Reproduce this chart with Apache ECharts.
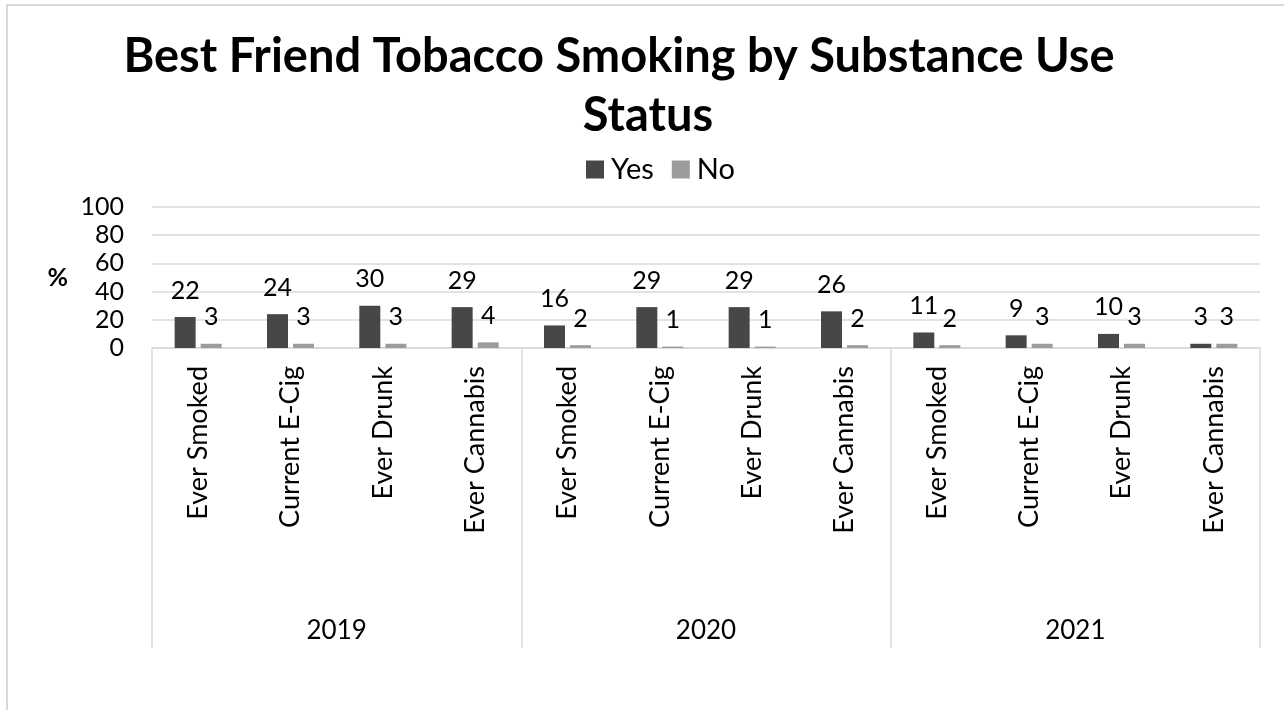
<!DOCTYPE html>
<html><head><meta charset="utf-8">
<script src="https://cdn.jsdelivr.net/npm/echarts@6/dist/echarts.min.js"></script>
<style>
html,body{margin:0;padding:0;background:#fff;}
#c{width:1284px;height:710px;position:absolute;left:0;top:0;}
#b{position:absolute;left:6px;top:4px;width:1400px;height:800px;border-left:2px solid #d9d9d9;border-top:2px solid #d9d9d9;pointer-events:none;}
</style></head><body>
<div id="c"></div><div id="b"></div>
<script>
const titleLine1 = 'Best Friend Tobacco Smoking by Substance Use';
const titleLine2 = 'Status';
const seriesNames = ['Yes', 'No'];
const categories = ['Ever Smoked','Current E-Cig','Ever Drunk','Ever Cannabis',
                    'Ever Smoked','Current E-Cig','Ever Drunk','Ever Cannabis',
                    'Ever Smoked','Current E-Cig','Ever Drunk','Ever Cannabis'];
const years = ['2019','2020','2021'];
const yesValues = [22,24,30,29, 16,29,29,26, 11,9,10,3];
const noValues  = [3,3,3,4, 2,1,1,2, 2,3,3,3];
const yTicks = [0,20,40,60,80,100];

const FONT = 'Lato';
const chart = echarts.init(document.getElementById('c'));
chart.setOption({
  animation:false,
  textStyle:{fontFamily:FONT},
  title:[
    {text:titleLine1, left:614, top:28, textAlign:'center',
     textStyle:{fontFamily:FONT,fontSize:47,fontWeight:'bold',color:'#000'}},
    {text:titleLine2, left:643, top:87, textAlign:'center',
     textStyle:{fontFamily:FONT,fontSize:47,fontWeight:'bold',color:'#000'}}
  ],
  legend:{data:seriesNames, left:581, top:150, itemWidth:18, itemHeight:18, itemGap:18,
    icon:'rect', textStyle:{fontFamily:FONT,fontSize:29,color:'#000',padding:[0,0,0,2]}},
  grid:{left:152,right:24,top:207,bottom:362,containLabel:false},
  xAxis:[
    {type:'category', data:categories, position:'bottom',
     axisLine:{show:true,lineStyle:{color:'#d9d9d9',width:1.5}},
     axisTick:{show:false},
     axisLabel:{rotate:90, margin:18, interval:0, fontFamily:FONT, fontSize:27, color:'#000'}},
    {type:'category', data:years, position:'bottom', offset:0,
     axisLine:{show:false},
     axisTick:{show:true, length:300, interval:0, lineStyle:{color:'#d9d9d9',width:1.5}},
     axisLabel:{margin:270, interval:0, fontFamily:FONT, fontSize:26, color:'#000'}}
  ],
  yAxis:{type:'value', min:yTicks[0], max:yTicks[yTicks.length-1], interval:20,
    name:'%', nameLocation:'middle', nameRotate:0, nameGap:84,
    nameTextStyle:{fontFamily:FONT,fontSize:25,fontWeight:'bold',color:'#000',padding:[10,0,0,0]},
    axisLine:{show:false}, axisTick:{show:false},
    axisLabel:{margin:28, fontFamily:FONT, fontSize:25, color:'#000'},
    splitLine:{lineStyle:{color:'#d9d9d9',width:1.5}}},
  series:[
    {name:seriesNames[0], type:'bar', data:yesValues, xAxisIndex:0, barWidth:21, barGap:'24%',
     itemStyle:{color:'#474747'},
     label:{show:true, position:'top', distance:14, fontFamily:FONT, fontSize:25, color:'#000'}},
    {name:seriesNames[1], type:'bar', data:noValues, xAxisIndex:0, barWidth:21, barGap:'24%',
     itemStyle:{color:'#9c9c9c'},
     label:{show:true, position:'top', distance:14, fontFamily:FONT, fontSize:25, color:'#000'}}
  ]
});
</script></body></html>
